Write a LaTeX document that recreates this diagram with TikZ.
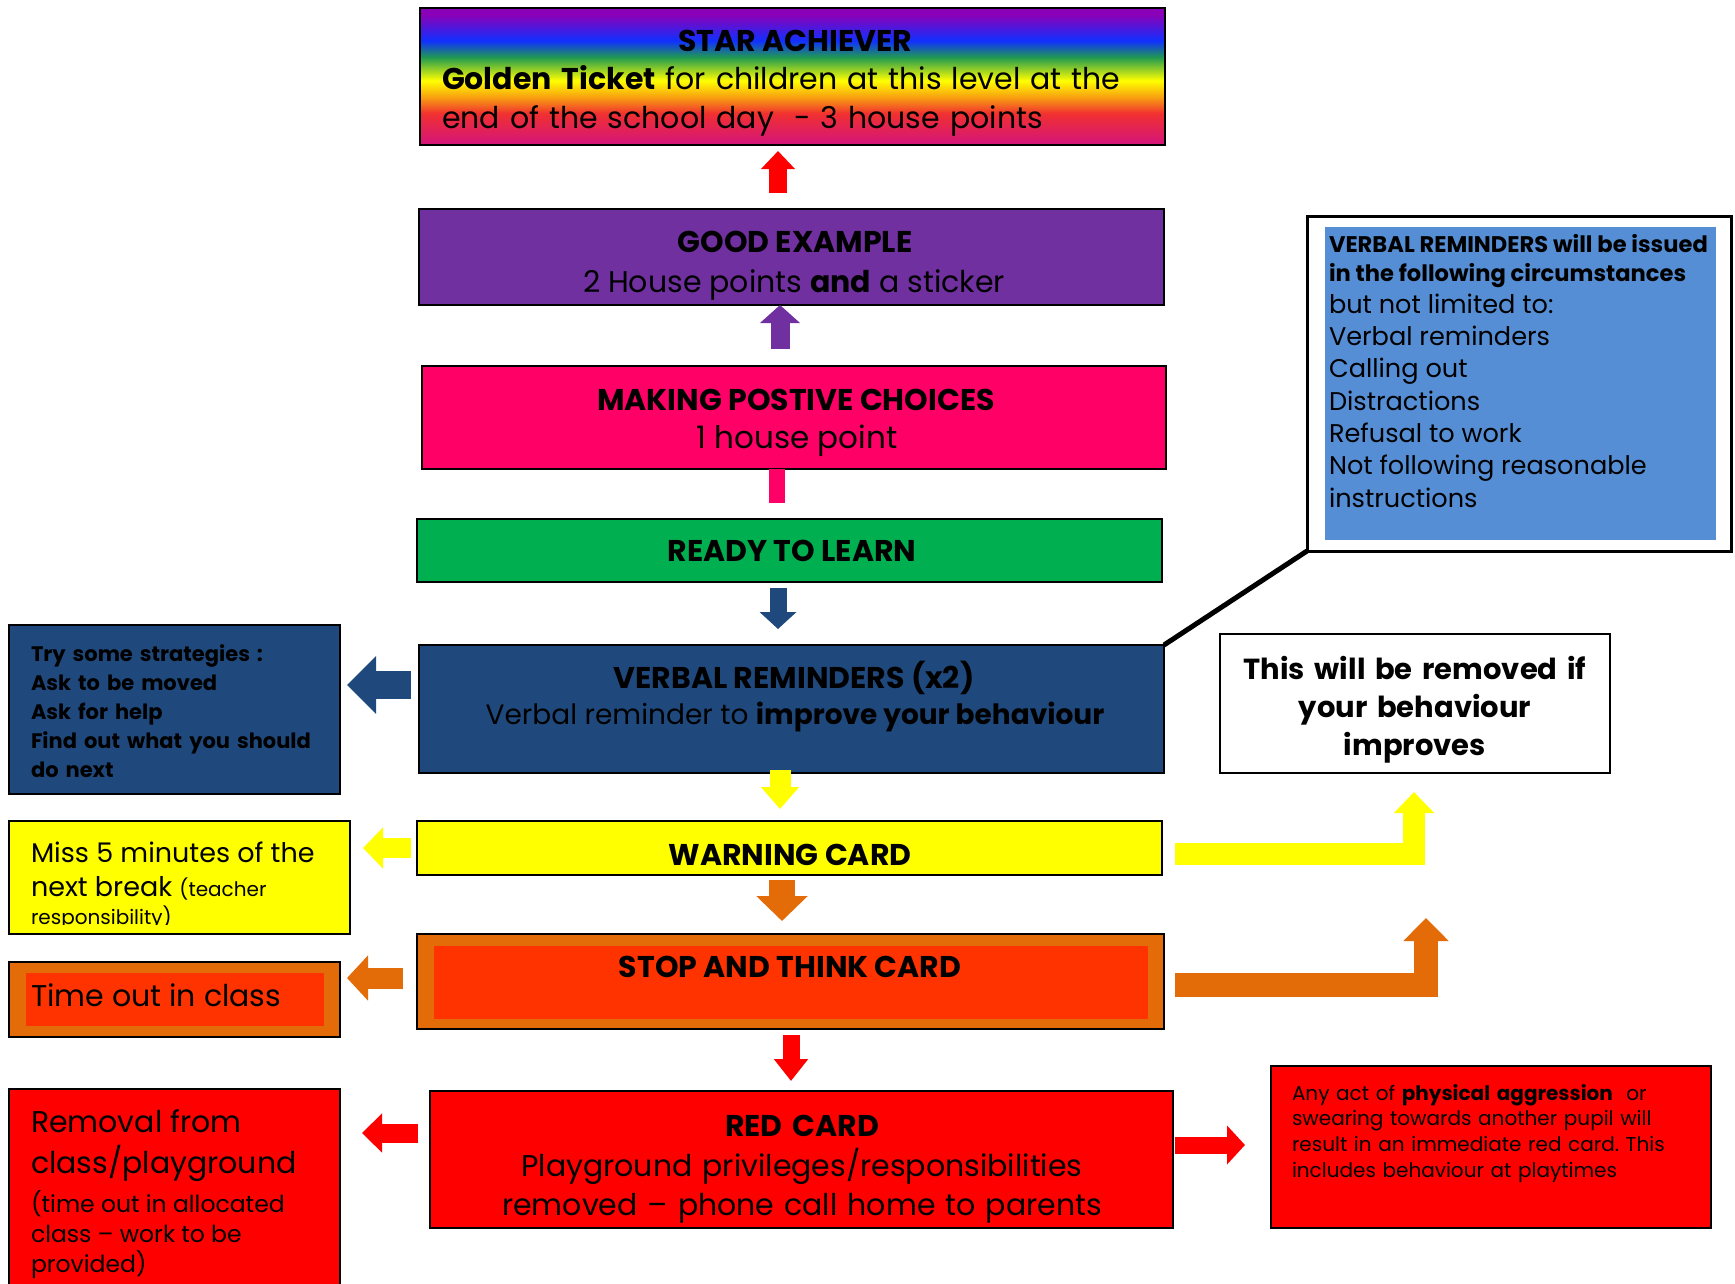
\documentclass[tikz,border=0pt]{standalone}
\usepackage{fontspec}
\setmainfont{Poppins}
\usetikzlibrary{arrows.meta,calc}
\definecolor{cPurple}{HTML}{7030A0}
\definecolor{cPink}{HTML}{FF0066}
\definecolor{cGreen}{HTML}{00B050}
\definecolor{cNavy}{HTML}{1F497D}
\definecolor{cYellow}{HTML}{FFFF00}
\definecolor{cOrange}{HTML}{E36C09}
\definecolor{cOrRed}{HTML}{FF3300}
\definecolor{cRed}{HTML}{FF0000}
\definecolor{cSky}{HTML}{558ED5}
\definecolor{rbPurple}{HTML}{8A00B8}
\definecolor{rbBlue}{HTML}{1030FF}
\definecolor{rbGreen}{HTML}{209A50}
\definecolor{rbYellow}{HTML}{FFFF00}
\definecolor{rbOrange}{HTML}{F8A010}
\definecolor{rbRed}{HTML}{F03030}
\definecolor{rbMag}{HTML}{D4147C}
\pgfdeclareverticalshading{rainbow}{100bp}{color(0bp)=(rbMag); color(25bp)=(rbMag); color(36.5bp)=(rbRed); color(42.5bp)=(rbOrange); color(48.5bp)=(rbYellow); color(57bp)=(rbGreen); color(63bp)=(rbBlue); color(72.5bp)=(rbPurple); color(100bp)=(rbPurple)}
\newcommand\fsz[2]{\fontsize{#1pt}{#2pt}\selectfont}
\newcommand\nsp{\spaceskip=0pt\xspaceskip=0pt\relax}
\frenchspacing
\begin{document}
\begin{tikzpicture}[x=1pt, y=-1pt,
  card/.style={draw=black, line width=1.6pt, inner sep=0pt, outer sep=0pt, anchor=north west},
  plain/.style={inner sep=0pt, outer sep=0pt, anchor=north west},
  lbl/.style={inner sep=0pt, outer sep=0pt, anchor=base},
  hd/.style={lbl, font=\fsz{30}{36}\bfseries},
  bd/.style={lbl, font=\fsz{30}{36}},
  barrow/.style n args={3}{line width=#1, line cap=butt, -{Triangle[width=#2,length=#3]}}]
\useasboundingbox (0,0) rectangle (1735,1283);
\fill[white] (0,0) rectangle (1735,1283);
\clip (0,0) rectangle (1735,1283);

% central column
\node[card, shading=rainbow, minimum width=745pt, minimum height=137pt] (star) at (420,8) {};
\node[card, fill=cPurple, minimum width=745pt, minimum height=96pt] (good) at (419,209) {};
\node[card, fill=cPink, minimum width=744pt, minimum height=103pt] (making) at (422,366) {};
\node[card, fill=cGreen, minimum width=745pt, minimum height=63pt] (ready) at (417,519) {};
\node[card, fill=cNavy, minimum width=745pt, minimum height=128pt] (verbal) at (419,645) {};
\node[card, fill=cYellow, minimum width=745pt, minimum height=54pt] (warning) at (417,821) {};
\node[card, fill=cOrange, minimum width=747pt, minimum height=95pt] (stop) at (417,934) {};
\node[plain, fill=cOrRed, minimum width=714pt, minimum height=73pt] (stopin) at (434,946) {};
\node[card, fill=cRed, minimum width=743pt, minimum height=137pt] (red) at (430,1091) {};

% left column
\node[card, fill=cNavy, minimum width=331pt, minimum height=169pt] (strat) at (9,625) {};
\node[card, fill=cYellow, minimum width=341pt, minimum height=113pt] (miss) at (9,821) {};
\node[card, fill=cOrange, minimum width=331pt, minimum height=75pt] (timeout) at (9,962) {};
\node[plain, fill=cOrRed, minimum width=298pt, minimum height=53pt] (timein) at (26,973) {};
\node[card, fill=cRed, minimum width=331pt, minimum height=220pt] (removal) at (9,1089) {};

% right column
\node[card, fill=white, line width=3pt, minimum width=424pt, minimum height=335pt] (callout) at (1307,216) {};
\node[plain, fill=cSky, minimum width=391pt, minimum height=313pt] (calloutin) at (1325,227) {};
\node[card, fill=white, minimum width=390pt, minimum height=139pt] (remove) at (1220,634) {};
\node[card, fill=cRed, minimum width=440pt, minimum height=162pt] (aggr) at (1271,1066) {};

% texts
\node[hd] (starT) at (795,51) {STAR ACHIEVER};
\node[plain, text width=720pt, align=left, font=\fsz{30}{39}] (starB) at (442,61.7)
  {\strut\textbf{Golden Ticket} for children at this level at the\\end of the school day\ \ - 3 house points};
\node[hd] (goodT) at (795,252) {GOOD EXAMPLE};
\node[bd] (goodB) at (794,292) {2 House points \textbf{and} a sticker};
\node[hd] (makingT) at (796,410) {MAKING POSTIVE CHOICES};
\node[lbl, font=\fsz{31}{36}] (makingB) at (797,448) {1 house point};
\node[hd] (readyT) at (792,561) {READY TO LEARN};
\node[hd] (verbalT) at (794,688) {VERBAL REMINDERS (x2)};
\node[lbl, font=\fsz{28}{36}] (verbalB) at (795,724) {Verbal reminder to \textbf{improve your behaviour}};
\node[hd] (warnT) at (790,865) {WARNING CARD};
\node[hd] (stopT) at (790,977) {STOP AND THINK CARD};
\node[plain, anchor=north, text width=740pt, align=center, font=\fsz{30}{39}] (redT) at (802,1108.7)
  {\strut\textbf{RED CARD}\\Playground privileges/responsibilities\\removed – phone call home to parents};

\node[plain, text width=320pt, align=left, font=\fsz{21}{29}\bfseries] (stratT) at (31,640.7)
  {\strut Try some strategies :\\Ask to be moved\\Ask for help\\Find out what you should\\do next};
\begin{scope}
\clip (miss.north west) rectangle ([yshift=10pt]miss.south east);
\node[plain, text width=315pt, align=left, font=\fsz{27}{34}] (missT) at (31,838.2)
  {\nsp\strut Miss 5 minutes of the\\next break {\fsz{20}{34}(teacher}\par{\fsz{20}{28}responsibility)\par}};
\end{scope}
\node[lbl, anchor=base west, font=\fsz{30}{40}] (timeT) at (31,1006) {Time out in class};
\node[plain, text width=310pt, align=left, font=\fsz{30}{41}] (removalT) at (31,1103.3)
  {\nsp\strut Removal from\\class/playground\par\vspace{8pt}{\fsz{23.5}{30}(time out in allocated\\class – work to be\\provided)\par}};

\node[plain, text width=410pt, align=left, font=\fsz{22.6}{29}] (calloutT) at (1329,231.7)
  {\nsp{\bfseries\strut VERBAL REMINDERS will be issued\\in the following circumstances\par}{\fsz{25.6}{32.3}but not limited to:\\Verbal reminders\\Calling out\\Distractions\\Refusal to work\\Not following reasonable\\instructions\par}};
\node[plain, anchor=north, text width=380pt, align=center, font=\fsz{29}{38}\bfseries] (removeT) at (1415,652.4)
  {\strut This will be removed if\\your behaviour\\improves};
\node[plain, text width=415pt, align=left, font=\fsz{20}{25.7}] (aggrT) at (1292,1082)
  {\strut Any act of \textbf{physical aggression}\ \ or\\swearing towards another pupil will\\result in an immediate red card. This\\includes behaviour at playtimes};

% vertical connectors
\draw[barrow={18pt}{33pt}{18pt}, cRed, shorten <=16pt, shorten >=6pt] (good.north -| 778,0) -- (star.south -| 778,0);
\draw[barrow={19pt}{39pt}{18pt}, cPurple, shorten <=17pt] (making.north -| 780,0) -- (good.south -| 780,0);
\draw[line width=16pt, cPink, shorten >=16pt] (making.south -| 777,0) -- (ready.north -| 777,0);
\draw[barrow={17pt}{36pt}{17pt}, cNavy, shorten <=6pt, shorten >=16pt] (ready.south -| 778,0) -- (verbal.north -| 778,0);
\draw[barrow={21pt}{37pt}{22pt}, cYellow, shorten <=-3pt, shorten >=12pt] (verbal.south -| 780,0) -- (warning.north -| 780,0);
\draw[barrow={26pt}{50pt}{25pt}, cOrange, shorten <=5pt, shorten >=13pt] (warning.south -| 782,0) -- (stop.north -| 782,0);
\draw[barrow={17pt}{33pt}{22pt}, cRed, shorten <=6pt, shorten >=10pt] (stop.south -| 791,0) -- (red.north -| 791,0);

% side connectors
\draw[barrow={28pt}{56pt}{29pt}, cNavy, shorten <=8pt, shorten >=7pt] (verbal.west |- 0,685) -- (strat.east |- 0,685);
\draw[barrow={20pt}{40pt}{20pt}, cYellow, shorten <=6pt, shorten >=13pt] (warning.west |- 0,848) -- (miss.east |- 0,848);
\draw[barrow={21pt}{44pt}{21pt}, cOrange, shorten <=14pt, shorten >=7pt] (stop.west |- 0,978) -- (timeout.east |- 0,978);
\draw[barrow={19pt}{38pt}{20pt}, cRed, shorten <=12pt, shorten >=22pt] (red.west |- 0,1133) -- (removal.east |- 0,1133);
\draw[barrow={17pt}{38pt}{18pt}, cRed, shorten <=2pt, shorten >=26pt] (red.east |- 0,1145) -- (aggr.west |- 0,1145);

% bent connectors
\draw[barrow={22pt}{39pt}{21pt}, cYellow, line join=miter, shorten <=13pt, shorten >=19pt] (warning.east |- 0,854) -| (remove.south -| 1414,0);
\draw[barrow={24pt}{44pt}{23pt}, cOrange, line join=miter, shorten <=11pt, shorten >=145pt] (stop.east |- 0,985) -| (remove.south -| 1426,0);

% callout leader
\draw[line width=5pt] (verbal.north east) -- (callout.south west);
\end{tikzpicture}
\end{document}
